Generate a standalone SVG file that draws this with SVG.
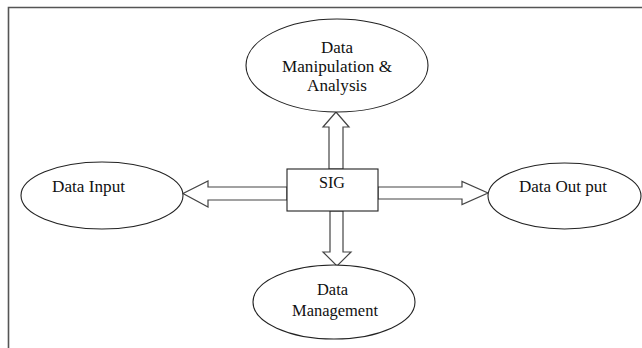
<svg xmlns="http://www.w3.org/2000/svg" width="642" height="348" viewBox="0 0 642 348">
<style>
.frame{fill:none;stroke:#555;stroke-width:1.6}
.node{fill:#fff;stroke:#222;stroke-width:1.1}
.arrow{fill:#fff;stroke:#444;stroke-width:1.2;stroke-linejoin:miter}
text{font-family:"Liberation Serif","Times New Roman",serif;font-size:16.5px;fill:#111}
</style>
<rect width="642" height="348" fill="#fff"/>
<path class="frame" d="M8.5,348 V7.5 H642"/>
<g id="connectors">
<polygon class="arrow" points="287,187 208,187 208,181 183,193.5 208,207 208,200 287,200"/>
<polygon class="arrow" points="378,187 462,187 462,181.5 488,193 462,204.5 462,199 378,199"/>
<polygon class="arrow" points="329,169 329,127 323,127 336,112 349,127 343,127 343,169"/>
<polygon class="arrow" points="330,211 330,252 323,252 337,266 351,252 343,252 343,211"/>
</g>
<g id="manip">
<ellipse class="node" cx="337" cy="65.5" rx="91" ry="46.5"/>
<text x="321" y="53" textLength="32" lengthAdjust="spacingAndGlyphs">Data</text>
<text x="282" y="72" textLength="110" lengthAdjust="spacingAndGlyphs">Manipulation &amp;</text>
<text x="307" y="90.5" textLength="60" lengthAdjust="spacingAndGlyphs">Analysis</text>
</g>
<g id="input">
<ellipse class="node" cx="102" cy="195.5" rx="81" ry="33.5"/>
<text x="52" y="192" textLength="73" lengthAdjust="spacingAndGlyphs">Data Input</text>
</g>
<g id="sig">
<rect class="node" x="287" y="169" width="91" height="42"/>
<text x="319" y="188" textLength="26" lengthAdjust="spacingAndGlyphs">SIG</text>
</g>
<g id="output">
<ellipse class="node" cx="564.5" cy="196" rx="76.5" ry="33"/>
<text x="519" y="192" textLength="88" lengthAdjust="spacingAndGlyphs">Data Out put</text>
</g>
<g id="management">
<ellipse class="node" cx="334" cy="302" rx="81" ry="37"/>
<text x="317" y="295" textLength="31" lengthAdjust="spacingAndGlyphs">Data</text>
<text x="292" y="316" textLength="86" lengthAdjust="spacingAndGlyphs">Management</text>
</g>
</svg>
